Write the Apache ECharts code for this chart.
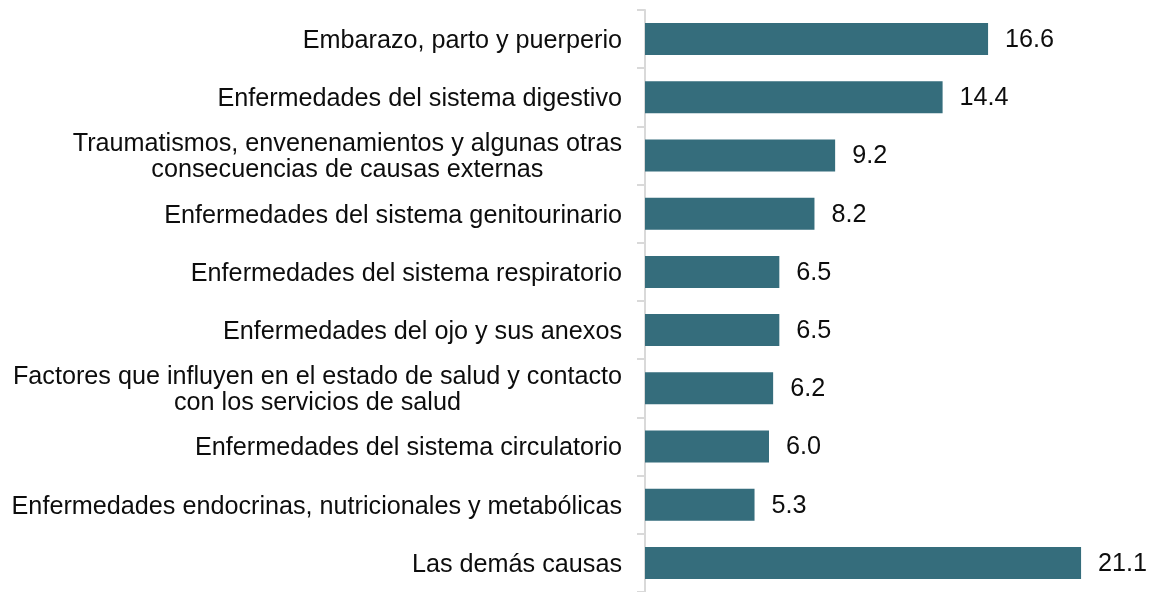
<!DOCTYPE html>
<html>
<head>
<meta charset="utf-8">
<script src="https://cdn.jsdelivr.net/npm/echarts@6/dist/echarts.min.js"></script>
<style>
html,body{margin:0;padding:0;background:#fff;}
#chart{width:1151px;height:592px;}
</style>
</head>
<body>
<div id="chart"></div>
<script>
const categories = [
  'Embarazo, parto y puerperio',
  'Enfermedades del sistema digestivo',
  'Traumatismos, envenenamientos y algunas otras\nconsecuencias de causas externas',
  'Enfermedades del sistema genitourinario',
  'Enfermedades del sistema respiratorio',
  'Enfermedades del ojo y sus anexos',
  'Factores que influyen en el estado de salud y contacto\ncon los servicios de salud',
  'Enfermedades del sistema circulatorio',
  'Enfermedades endocrinas, nutricionales y metabólicas',
  'Las demás causas'
];
const values = [16.6, 14.4, 9.2, 8.2, 6.5, 6.5, 6.2, 6.0, 5.3, 21.1];

const FONT = '"Liberation Sans", Arial, sans-serif';
const chart = echarts.init(document.getElementById('chart'), null, {renderer: 'canvas'});
chart.setOption({
  animation: false,
  backgroundColor: '#ffffff',
  textStyle: {fontFamily: FONT},
  grid: {left: 645, right: 10, top: 10, bottom: -2, containLabel: false},
  xAxis: {
    type: 'value',
    min: 0,
    max: 24,
    show: false
  },
  yAxis: {
    type: 'category',
    data: categories,
    inverse: true,
    axisLine: {show: true, lineStyle: {color: '#d9d9d9', width: 2}},
    axisTick: {show: true, length: 8, lineStyle: {color: '#d9d9d9', width: 2}},
    axisLabel: {
      margin: 23,
      color: '#0d0d0d',
      fontSize: 25.2,
      fontFamily: FONT,
      lineHeight: 26,
      padding: [4, 0, 0, 0],
      formatter: function (v) {
        return v.split('\n').map(function (s) { return '{c|' + s + '}'; }).join('\n');
      },
      rich: {
        c: {align: 'center', fontSize: 25.2, lineHeight: 26, color: '#0d0d0d', fontFamily: FONT}
      }
    },
    splitLine: {show: false}
  },
  series: [{
    type: 'bar',
    data: values,
    barCategoryGap: '45%',
    itemStyle: {color: '#356d7c'},
    label: {
      show: true,
      position: 'right',
      distance: 17,
      offset: [0, 1],
      color: '#0d0d0d',
      fontSize: 25.2,
      fontFamily: FONT,
      formatter: function (p) { return p.value.toFixed(1); }
    }
  }]
});
</script>
</body>
</html>
